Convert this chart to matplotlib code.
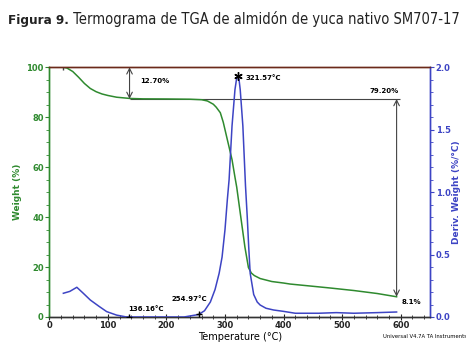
import matplotlib
matplotlib.use('Agg')
import matplotlib.pyplot as plt
from matplotlib.ticker import MultipleLocator

# ---- data ----
temp_w = [24, 30, 40, 50, 60, 70, 80, 90, 100, 115, 138, 160, 200, 240, 260, 270,
          280, 285, 292, 297, 303, 308, 312, 317, 320, 326, 334, 340, 345, 350, 360,
          380, 400, 411, 450, 480, 520, 560, 593]
weight = [100, 99.7, 98.3, 96, 93.5, 91.5, 90.2, 89.3, 88.7, 88, 87.5, 87.35, 87.3,
          87.2, 87.0, 86.5, 85.2, 84, 81.8, 78, 72, 67, 63, 56, 52, 41.7, 28, 19.8,
          17.6, 16.6, 15.4, 14.2, 13.6, 13.2, 12.3, 11.6, 10.6, 9.4, 8.1]

temp_d = [24, 35, 47, 58, 70, 85, 98, 115, 132, 150, 200, 230, 255, 265, 275, 283,
          290, 295, 300, 304, 307, 312, 317, 319.5, 321.57, 324, 326, 330.5, 335, 338,
          340.5, 343, 349, 355, 360, 370, 383, 400, 420, 460, 490, 520, 560, 593]
deriv = [0.19, 0.205, 0.238, 0.19, 0.136, 0.085, 0.043, 0.015, 0.0, 0.0, 0.0, 0.0,
         0.02, 0.05, 0.12, 0.22, 0.35, 0.48, 0.70, 0.94, 1.10, 1.53, 1.82, 1.90, 1.93,
         1.90, 1.82, 1.53, 1.05, 0.80, 0.56, 0.35, 0.18, 0.12, 0.096, 0.07, 0.056,
         0.045, 0.03, 0.03, 0.035, 0.03, 0.035, 0.04]

loss1 = 12.70
plateau = 87.3
residue = 8.1
peak_t = 321.57
onset1_t = 136.16
onset2_t = 254.97
arrow_t1 = 137
arrow_t2 = 593

green = '#2f8a2f'
blue = '#3d44c4'
gray = '#444444'

fig = plt.figure(figsize=(4.66, 3.44), dpi=100)
ax = fig.add_axes([0.1058, 0.0785, 0.8169, 0.726])
ax2 = ax.twinx()

ax.plot(temp_w, weight, color=green, lw=1.1, zorder=3)
ax2.plot(temp_d, deriv, color=blue, lw=1.1, zorder=3)

ax.set_xlim(0, 650)
ax.set_ylim(0, 100)
ax2.set_ylim(0, 2.0)

ax.xaxis.set_major_locator(MultipleLocator(100))
ax.xaxis.set_minor_locator(MultipleLocator(20))
ax.yaxis.set_major_locator(MultipleLocator(20))
ax.yaxis.set_minor_locator(MultipleLocator(5))
ax2.yaxis.set_major_locator(MultipleLocator(0.5))
ax2.yaxis.set_minor_locator(MultipleLocator(0.1))

ax.tick_params(axis='x', which='both', direction='inout', labelsize=6, pad=1, colors='#222222')
ax.tick_params(axis='x', which='major', length=4)
ax.tick_params(axis='x', which='minor', length=3)
ax.tick_params(axis='y', which='both', direction='out', labelsize=6, pad=1,
               colors=green, labelcolor=green)
ax.tick_params(axis='y', which='major', length=3)
ax.tick_params(axis='y', which='minor', length=2)
ax2.tick_params(axis='y', which='both', direction='out', labelsize=6, pad=1,
                colors=blue, labelcolor=blue)
ax2.tick_params(axis='y', which='major', length=3)
ax2.tick_params(axis='y', which='minor', length=2)
for lab in ax.get_xticklabels() + ax.get_yticklabels() + ax2.get_yticklabels():
    lab.set_fontweight('bold')

for a in (ax, ax2):
    a.spines['left'].set_color(green)
    a.spines['right'].set_color(blue)
    a.spines['top'].set_color('#6b2a1a')
    a.spines['bottom'].set_color('#333333')
    for s in a.spines.values():
        s.set_linewidth(1.0)

ax.set_xlabel('Temperature (°C)', fontsize=7, labelpad=1)
ax.set_ylabel('Weight (%)', fontsize=6.5, color=green, fontweight='bold', labelpad=3)
ax2.set_ylabel('Deriv. Weight (%/°C)', fontsize=6.5, color=blue, fontweight='bold', labelpad=1)

# annotations on weight axis
ax.hlines(plateau, arrow_t1, 598, color=gray, lw=0.8, zorder=2)
ax.annotate('', xy=(arrow_t1, plateau), xytext=(arrow_t1, 100),
            arrowprops=dict(arrowstyle='<->', color=gray, lw=0.8, shrinkA=0, shrinkB=0))
ax.annotate('', xy=(arrow_t2, residue), xytext=(arrow_t2, plateau),
            arrowprops=dict(arrowstyle='<->', color=gray, lw=0.8, shrinkA=0, shrinkB=0))
ax.text(155, 94.3, f'{loss1:.2f}%', fontsize=5, fontweight='bold', va='center')
ax.text(arrow_t2 + 3, 90.5, f'{plateau - residue:.2f}%', fontsize=5, fontweight='bold',
        va='center', ha='right')
ax.text(arrow_t2 + 8, 5.9, f'{residue:.1f}%', fontsize=5, fontweight='bold', va='center')
ax.plot([24], [100], marker='|', color=gray, ms=5)

# derivative annotations
ax2.plot([peak_t], [1.93], marker=(6, 2, 0), color='black', ms=6, zorder=4)
ax2.text(peak_t + 14, 1.91, f'{peak_t:.2f}°C', fontsize=5, fontweight='bold', va='center')
ax2.plot([onset1_t], [0.0], marker='+', color='black', ms=5, zorder=4)
ax2.text(onset1_t - 2, 0.065, f'{onset1_t:.2f}°C', fontsize=5, fontweight='bold', va='center')
ax2.plot([onset2_t], [0.02], marker='+', color='black', ms=5, zorder=4)
ax2.text(onset2_t + 14, 0.145, f'{onset2_t:.2f}°C', fontsize=5, fontweight='bold',
         va='center', ha='right')

fig.text(0.822, 0.022, 'Universal V4.7A TA Instruments', fontsize=3.8, va='center')

# title
tfam = 'DejaVu Sans'
t1 = fig.text(0.017, 0.94, 'Figura 9.', fontsize=9.6, fontweight='bold',
              family=tfam, fontstretch='condensed', va='center', color='#222222')
ax.annotate(' Termograma de TGA de almidón de yuca nativo SM707-17',
            xy=(1, 0), xycoords=t1, va='bottom', ha='left',
            fontsize=10.5, family=tfam, fontstretch='condensed', color='#222222',
            annotation_clip=False)

fig.savefig('out.png', dpi=100)
